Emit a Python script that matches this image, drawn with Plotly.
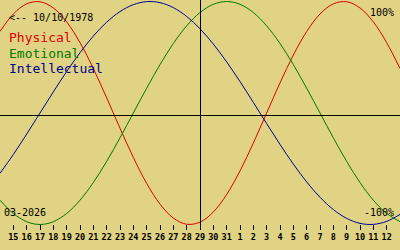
import plotly.graph_objects as go
import pandas as pd

# one point per day, 14 Mar 2026 .. 13 Apr 2026 (birth date 10/10/1978)
dates = pd.date_range("2026-03-14", "2026-04-13", freq="D")

physical = [73.08, 88.79, 97.91, 99.77, 94.23, 81.70, 63.11, 39.84, 13.62, -13.62,
            -39.84, -63.11, -81.70, -94.23, -99.77, -97.91, -88.79, -73.08, -51.96, -26.98,
            0.0, 26.98, 51.96, 73.08, 88.79, 97.91, 99.77, 94.23, 81.70, 63.11, 39.84]
emotional = [-78.18, -90.10, -97.49, -100.0, -97.49, -90.10, -78.18, -62.35, -43.39, -22.25,
             0.0, 22.25, 43.39, 62.35, 78.18, 90.10, 97.49, 100.0, 97.49, 90.10,
             78.18, 62.35, 43.39, 22.25, 0.0, -22.25, -43.39, -62.35, -78.18, -90.10, -97.49]
intellectual = [-54.06, -37.17, -18.93, 0.0, 18.93, 37.17, 54.06, 69.01, 81.46, 90.96,
                97.18, 99.89, 98.98, 94.50, 86.60, 75.57, 61.82, 45.82, 28.17, 9.51,
                -9.51, -28.17, -45.82, -61.82, -75.57, -86.60, -94.50, -98.98, -99.89, -97.18, -90.96]

tick_labels = ["15", "16", "17", "18", "19", "20", "21", "22", "23", "24", "25", "26", "27", "28",
               "29", "30", "31", "1", "2", "3", "4", "5", "6", "7", "8", "9", "10", "11", "12"]
series_names = ["Physical", "Emotional", "Intellectual"]
series_colors = ["#DD0000", "#007A00", "#000090"]

BG = "#E0D384"
MONO = "DejaVu Sans Mono"

fig = go.Figure()
for name, vals, col in zip(series_names, [physical, emotional, intellectual], series_colors):
    fig.add_trace(go.Scatter(x=dates, y=vals, mode="lines", name=name,
                             line=dict(color=col, width=1, shape="spline"),
                             hoverinfo="skip"))

H = 230.0
def py(p):
    return 1 - p / H

# centre axes (offset half a pixel so they render crisp)
fig.add_shape(type="line", xref="paper", yref="paper", x0=0, x1=1, y0=py(115.5), y1=py(115.5),
              line=dict(color="black", width=1))
fig.add_shape(type="line", xref="paper", yref="paper", x0=200.5 / 400, x1=200.5 / 400, y0=0, y1=1,
              line=dict(color="black", width=1))

ann = []
ann.append(dict(text="<-- 10/10/1978", x=8 / 400, y=py(17), xanchor="left", yanchor="middle",
                font=dict(family=MONO, size=10, color="black")))
for i, (name, col) in enumerate(zip(series_names, series_colors)):
    ann.append(dict(text=name, x=8 / 400, y=py(38 + 15 * i), xanchor="left", yanchor="middle",
                    font=dict(family=MONO, size=13, color=col)))
ann.append(dict(text="100%", x=395 / 400, y=py(12), xanchor="right", yanchor="middle",
                font=dict(family=MONO, size=10, color="black")))
ann.append(dict(text="-100%", x=395 / 400, y=py(212.5), xanchor="right", yanchor="middle",
                font=dict(family=MONO, size=10, color="black")))
ann.append(dict(text="03-2026", x=3 / 400, y=py(212.5), xanchor="left", yanchor="middle",
                font=dict(family=MONO, size=10, color="black")))
for a in ann:
    a.update(xref="paper", yref="paper", showarrow=False, borderpad=0)
fig.update_layout(annotations=ann)

fig.update_layout(
    width=400, height=250,
    margin=dict(l=0, r=0, t=0, b=20, pad=0),
    paper_bgcolor=BG, plot_bgcolor=BG,
    showlegend=False,
    xaxis=dict(range=[dates[0], dates[-1]], tickvals=list(dates[1:30]), ticktext=tick_labels,
               ticks="inside", ticklen=5, tickwidth=1, tickcolor="black",
               showgrid=False, zeroline=False, showline=False,
               tickfont=dict(family=MONO, size=8.5, color="black", weight="bold")),
    yaxis=dict(range=[-104.93, 101.35], showgrid=False, zeroline=False, showline=False,
               showticklabels=False, ticks=""),
)

fig.write_html("out.html")
